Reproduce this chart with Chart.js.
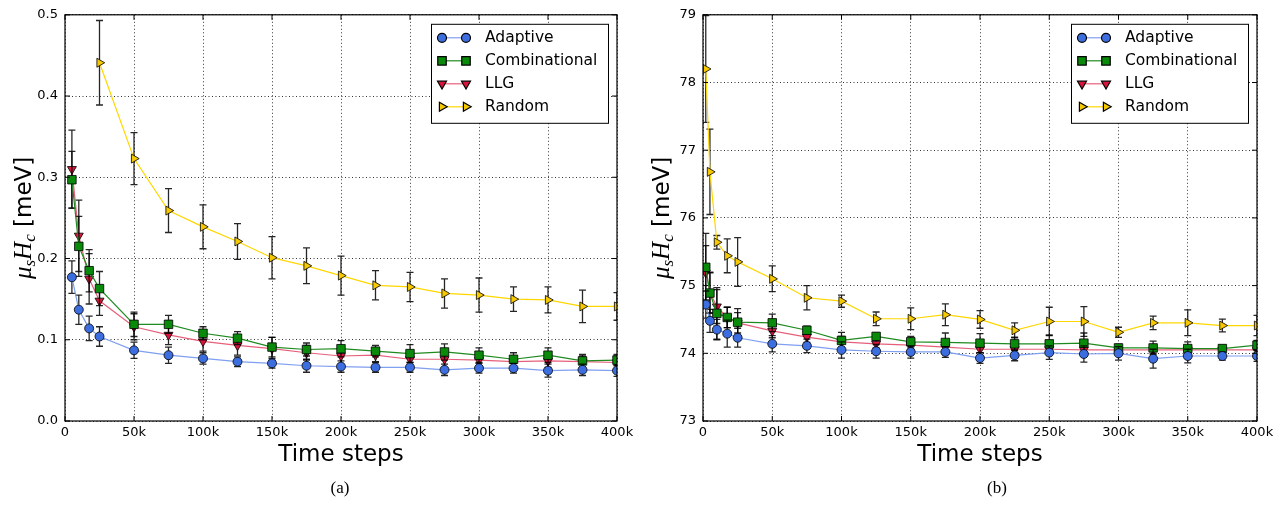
<!DOCTYPE html>
<html>
<head>
<meta charset="utf-8">
<script src="https://cdn.jsdelivr.net/npm/chart.js@4.4.0/dist/chart.umd.min.js"></script>
<style>
    body { margin: 0; background: #fff; }
    #wrap { position: relative; width: 1287px; height: 506px; }
    .panel { position: absolute; top: 0; height: 506px; }
    .cap { position: absolute; top: 478px; width: 40px; text-align: center; font: 17px "Liberation Serif", serif; color: #000; }
</style>
</head>
<body>
<div id="wrap">
    <div class="panel" style="left:0;width:643px"><canvas id="chartA"></canvas></div>
    <div class="panel" style="left:643px;width:644px"><canvas id="chartB"></canvas></div>
    <div class="cap" style="left:320px">(a)</div>
    <div class="cap" style="left:977px">(b)</div>
</div>
<script>
// time steps (x values)
const timeA = [5000, 10000, 17500, 25000, 50000, 75000, 100000, 125000, 150000, 175000, 200000,
    225000, 250000, 275000, 300000, 325000, 350000, 375000, 400000];
const timeRandA = [25000, 50000, 75000, 100000, 125000, 150000, 175000, 200000,
    225000, 250000, 275000, 300000, 325000, 350000, 375000, 400000];
const timeB = [2000, 5000, 10000, 17500, 25000, 50000, 75000, 100000, 125000, 150000, 175000, 200000,
    225000, 250000, 275000, 300000, 325000, 350000, 375000, 400000];

// panel (a)
const adaptiveA = [0.177, 0.137, 0.114, 0.104, 0.087, 0.081, 0.077, 0.073, 0.071, 0.068, 0.067, 0.066, 0.066, 0.063, 0.065, 0.065, 0.062, 0.063, 0.062];
const adaptiveErrA = [0.020, 0.018, 0.015, 0.012, 0.010, 0.010, 0.007, 0.006, 0.006, 0.008, 0.007, 0.006, 0.006, 0.007, 0.006, 0.006, 0.008, 0.007, 0.007];
const combA = [0.297, 0.215, 0.185, 0.163, 0.119, 0.119, 0.108, 0.102, 0.091, 0.088, 0.089, 0.086, 0.083, 0.085, 0.081, 0.076, 0.081, 0.074, 0.075];
const combErrA = [0.035, 0.037, 0.026, 0.021, 0.015, 0.011, 0.008, 0.008, 0.012, 0.008, 0.010, 0.007, 0.011, 0.010, 0.009, 0.008, 0.009, 0.008, 0.007];
const llgA = [0.310, 0.228, 0.175, 0.148, 0.116, 0.106, 0.098, 0.093, 0.089, 0.084, 0.080, 0.081, 0.076, 0.076, 0.075, 0.073, 0.074, 0.073, 0.072];
const llgErrA = [0.048, 0.044, 0.031, 0.018, 0.016, 0.012, 0.012, 0.012, 0.014, 0.009, 0.010, 0.008, 0.010, 0.012, 0.009, 0.007, 0.008, 0.007, 0.008];
const randA = [0.441, 0.323, 0.259, 0.239, 0.221, 0.201, 0.191, 0.179, 0.167, 0.165, 0.157, 0.155, 0.150, 0.149, 0.141, 0.141];
const randErrA = [0.052, 0.032, 0.027, 0.027, 0.022, 0.026, 0.022, 0.024, 0.018, 0.018, 0.018, 0.021, 0.015, 0.016, 0.020, 0.017];

// panel (b)
const adaptiveB = [74.72, 74.48, 74.35, 74.29, 74.23, 74.14, 74.11, 74.05, 74.03, 74.02, 74.02, 73.93, 73.97, 74.01, 73.99, 74.00, 73.92, 73.96, 73.96, 73.96];
const adaptiveErrB = [0.20, 0.17, 0.15, 0.20, 0.14, 0.12, 0.10, 0.12, 0.10, 0.09, 0.08, 0.08, 0.08, 0.10, 0.12, 0.10, 0.14, 0.10, 0.06, 0.08];
const combB = [75.27, 74.89, 74.59, 74.53, 74.46, 74.45, 74.34, 74.19, 74.25, 74.17, 74.16, 74.15, 74.14, 74.14, 74.15, 74.08, 74.08, 74.07, 74.07, 74.12];
const combErrB = [0.50, 0.30, 0.38, 0.15, 0.20, 0.13, 0.06, 0.12, 0.05, 0.08, 0.14, 0.14, 0.10, 0.13, 0.15, 0.05, 0.10, 0.10, 0.05, 0.07];
const llgB = [75.19, 74.90, 74.69, 74.53, 74.45, 74.33, 74.24, 74.17, 74.14, 74.12, 74.09, 74.06, 74.06, 74.06, 74.05, 74.05, 74.05, 74.05, 74.05, 74.05];
const llgErrB = [0.40, 0.30, 0.25, 0.15, 0.15, 0.10, 0.08, 0.08, 0.06, 0.06, 0.05, 0.05, 0.05, 0.05, 0.05, 0.05, 0.05, 0.05, 0.05, 0.05];
const randB = [78.20, 76.68, 75.64, 75.44, 75.35, 75.10, 74.82, 74.77, 74.51, 74.51, 74.57, 74.50, 74.34, 74.47, 74.47, 74.31, 74.45, 74.45, 74.41, 74.41];
const randErrB = [0.79, 0.63, 0.10, 0.25, 0.36, 0.19, 0.18, 0.09, 0.10, 0.16, 0.16, 0.13, 0.11, 0.21, 0.22, 0.075, 0.10, 0.19, 0.095, 0.15];

const styles = {
    Adaptive: { line: '#7f9ff0', fill: '#3d6ee0', shape: 'circle', rot: 0, r: 4.5 },
    Combinational: { line: '#1f8a1f', fill: '#0a8a0a', shape: 'rect', rot: 0, r: 6 },
    LLG: { line: '#e6607c', fill: '#d8143c', shape: 'triangle', rot: 180, r: 5.2 },
    Random: { line: '#ffd700', fill: '#f5c800', shape: 'triangle', rot: 90, r: 5.2 }
};

function series(label, xs, ys, errs) {
    const s = styles[label];
    return {
        label: label,
        data: xs.map((x, i) => ({ x: x, y: ys[i] })),
        errors: errs,
        borderColor: s.line,
        borderWidth: 1.2,
        backgroundColor: s.fill,
        pointBackgroundColor: s.fill,
        pointBorderColor: '#000',
        pointBorderWidth: 0.8,
        pointStyle: s.shape,
        pointRotation: s.rot,
        pointRadius: s.r,
        pointHoverRadius: s.r,
        tension: 0,
        clip: 0
    };
}

// error bars, drawn just before each dataset
const errorBars = {
    id: 'errorBars',
    beforeDatasetDraw(chart, args) {
        const ds = chart.data.datasets[args.index];
        if (!ds.errors) return;
        const ctx = chart.ctx, a = chart.chartArea, ys = chart.scales.y;
        ctx.save();
        ctx.beginPath();
        ctx.rect(a.left, a.top, a.right - a.left, a.bottom - a.top);
        ctx.clip();
        ctx.strokeStyle = 'rgba(0,0,0,0.85)';
        ctx.lineWidth = 1.3;
        args.meta.data.forEach((pt, i) => {
            const v = ds.data[i].y, e = ds.errors[i];
            const y1 = ys.getPixelForValue(v + e), y2 = ys.getPixelForValue(v - e);
            ctx.beginPath();
            ctx.moveTo(pt.x, y1); ctx.lineTo(pt.x, y2);
            ctx.moveTo(pt.x - 3.5, y1); ctx.lineTo(pt.x + 3.5, y1);
            ctx.moveTo(pt.x - 3.5, y2); ctx.lineTo(pt.x + 3.5, y2);
            ctx.stroke();
        });
        ctx.restore();
    }
};

// frame, inward ticks, y label, legend
const decor = {
    id: 'decor',
    afterDraw(chart) {
        const ctx = chart.ctx, a = chart.chartArea, xs = chart.scales.x, ys = chart.scales.y;
        ctx.save();
        ctx.strokeStyle = '#000';
        ctx.lineWidth = 1;
        ctx.beginPath();
        xs.ticks.forEach(t => {
            const x = xs.getPixelForValue(t.value);
            ctx.moveTo(x, a.bottom); ctx.lineTo(x, a.bottom - 5);
            ctx.moveTo(x, a.top); ctx.lineTo(x, a.top + 5);
        });
        ys.ticks.forEach(t => {
            const y = ys.getPixelForValue(t.value);
            ctx.moveTo(a.left, y); ctx.lineTo(a.left + 5, y);
            ctx.moveTo(a.right, y); ctx.lineTo(a.right - 5, y);
        });
        ctx.stroke();
        ctx.lineWidth = 1.2;
        ctx.strokeRect(a.left, a.top, a.right - a.left, a.bottom - a.top);

        // y axis title: mu_s H_c [meV]
        const parts = [
            { t: 'μ', f: 'italic 25px "Liberation Serif"', dy: 0 },
            { t: 's', f: 'italic 17px "Liberation Serif"', dy: 4 },
            { t: 'H', f: 'italic 25px "Liberation Serif"', dy: 0 },
            { t: 'c', f: 'italic 17px "Liberation Serif"', dy: 4 },
            { t: ' [meV]', f: '23px "DejaVu Sans"', dy: 0 }
        ];
        let total = 0;
        parts.forEach(p => { ctx.font = p.f; p.w = ctx.measureText(p.t).width; total += p.w; });
        ctx.save();
        ctx.translate(a.left - 34, (a.top + a.bottom) / 2);
        ctx.rotate(-Math.PI / 2);
        ctx.fillStyle = '#000';
        ctx.textBaseline = 'alphabetic';
        let px = -total / 2;
        parts.forEach(p => { ctx.font = p.f; ctx.fillText(p.t, px, p.dy); px += p.w; });
        ctx.restore();

        // legend
        const bw = 177, bh = 99, bx = a.right - 186, by = a.top + 9;
        ctx.fillStyle = '#fff';
        ctx.fillRect(bx, by, bw, bh);
        ctx.lineWidth = 1;
        ctx.strokeStyle = '#000';
        ctx.strokeRect(bx + 0.5, by + 0.5, bw, bh);
        chart.data.datasets.forEach((ds, i) => {
            const y = by + 14 + 23 * i;
            ctx.strokeStyle = ds.borderColor;
            ctx.lineWidth = ds.borderWidth;
            ctx.beginPath();
            ctx.moveTo(bx + 11, y); ctx.lineTo(bx + 35, y);
            ctx.stroke();
            ctx.fillStyle = ds.pointBackgroundColor;
            ctx.strokeStyle = '#000';
            const opts = { pointStyle: ds.pointStyle, rotation: ds.pointRotation, radius: ds.pointRadius, borderWidth: 0.8 };
            Chart.helpers.drawPoint(ctx, opts, bx + 11, y);
            Chart.helpers.drawPoint(ctx, opts, bx + 35, y);
            ctx.fillStyle = '#000';
            ctx.font = '15.5px "DejaVu Sans"';
            ctx.textBaseline = 'middle';
            ctx.textAlign = 'left';
            ctx.fillText(ds.label, bx + 54, y);
        });
        ctx.restore();
    }
};

function makeOptions(yMin, yMax, yStep, dec, yWidth, padRight) {
    const tickFont = { family: 'DejaVu Sans', size: 13 };
    return {
        responsive: true,
        maintainAspectRatio: false,
        animation: false,
        layout: { padding: { top: 10, right: padRight, left: 0, bottom: 0 } },
        plugins: { legend: { display: false }, tooltip: { enabled: false } },
        scales: {
            x: {
                type: 'linear',
                min: 0,
                max: 400000,
                afterFit: s => { s.height = 85; },
                ticks: {
                    stepSize: 50000,
                    autoSkip: false,
                    maxRotation: 0,
                    padding: 4,
                    color: '#000',
                    font: tickFont,
                    callback: v => v === 0 ? '0' : (v / 1000) + 'k'
                },
                grid: { color: '#000', lineWidth: 0.8, drawTicks: false },
                border: { display: false, dash: [1, 2.5] },
                title: {
                    display: true,
                    text: 'Time steps',
                    color: '#000',
                    font: { family: 'DejaVu Sans', size: 23 },
                    padding: { top: 0, bottom: 37 }
                }
            },
            y: {
                min: yMin,
                max: yMax,
                afterFit: s => { s.width = yWidth; },
                ticks: {
                    stepSize: yStep,
                    padding: 7,
                    color: '#000',
                    font: tickFont,
                    callback: v => v.toFixed(dec)
                },
                grid: { color: '#000', lineWidth: 0.8, drawTicks: false },
                border: { display: false, dash: [1, 2.5] }
            }
        }
    };
}

new Chart(document.getElementById('chartA').getContext('2d'), {
    type: 'line',
    data: {
        datasets: [
            series('Adaptive', timeA, adaptiveA, adaptiveErrA),
            series('Combinational', timeA, combA, combErrA),
            series('LLG', timeA, llgA, llgErrA),
            series('Random', timeRandA, randA, randErrA)
        ]
    },
    options: makeOptions(0, 0.5, 0.1, 1, 65, 26),
    plugins: [errorBars, decor]
});

new Chart(document.getElementById('chartB').getContext('2d'), {
    type: 'line',
    data: {
        datasets: [
            series('Adaptive', timeB, adaptiveB, adaptiveErrB),
            series('Combinational', timeB, combB, combErrB),
            series('LLG', timeB, llgB, llgErrB),
            series('Random', timeB, randB, randErrB)
        ]
    },
    options: makeOptions(73, 79, 1, 0, 60, 30),
    plugins: [errorBars, decor]
});
</script>
</body>
</html>
